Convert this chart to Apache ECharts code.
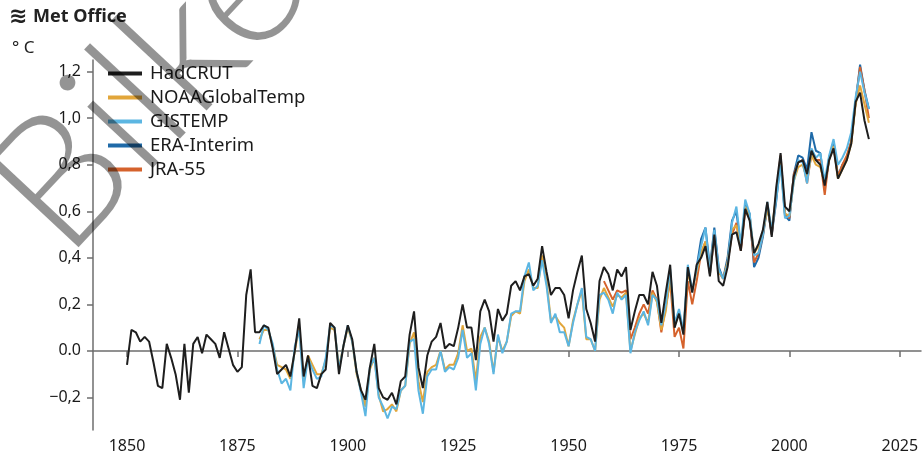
<!DOCTYPE html>
<html>
<head>
    <meta charset="UTF-8">
    <title>Global temperature</title>
    <style type="text/css">
        html, body { margin: 0; padding: 0; background: #fff; }
        #main { width: 922px; height: 457px; }
    </style>
</head>
<body>
    <div id="main"></div>
    <script src="https://cdn.jsdelivr.net/npm/echarts@6/dist/echarts.min.js"></script>
    <script type="text/javascript">

    // first year of each record
    var hadStart = 1850;
    var noaaStart = 1880;
    var gisStart = 1880;
    var eraStart = 1979;
    var jraStart = 1958;

    // anomalies in °C, one value per year
    var hadcrut = [
        -0.06, 0.09, 0.08, 0.04, 0.06, 0.04, -0.05, -0.15, -0.16, 0.03,
        -0.03, -0.10, -0.21, 0.03, -0.18, 0.03, 0.06, -0.01, 0.07, 0.05,
        0.03, -0.03, 0.08, 0.01, -0.06, -0.09, -0.07, 0.24, 0.35, 0.08,
        0.08, 0.11, 0.10, 0.01, -0.10, -0.08, -0.06, -0.11, 0.00, 0.14,
        -0.11, -0.02, -0.15, -0.16, -0.10, -0.08, 0.12, 0.10, -0.10, 0.02,
        0.11, 0.05, -0.09, -0.17, -0.21, -0.07, 0.03, -0.16, -0.20, -0.21,
        -0.18, -0.23, -0.13, -0.11, 0.07, 0.17, -0.07, -0.16, -0.02, 0.04,
        0.06, 0.12, 0.01, 0.03, 0.02, 0.10, 0.20, 0.10, 0.10, -0.04,
        0.17, 0.22, 0.17, 0.04, 0.18, 0.13, 0.16, 0.28, 0.30, 0.26,
        0.32, 0.33, 0.28, 0.31, 0.45, 0.34, 0.24, 0.27, 0.27, 0.24,
        0.14, 0.26, 0.34, 0.41, 0.18, 0.12, 0.04, 0.30, 0.36, 0.33,
        0.26, 0.35, 0.32, 0.36, 0.09, 0.17, 0.24, 0.24, 0.20, 0.34,
        0.28, 0.12, 0.25, 0.37, 0.10, 0.16, 0.07, 0.36, 0.25, 0.37,
        0.40, 0.45, 0.32, 0.50, 0.30, 0.28, 0.36, 0.50, 0.51, 0.43,
        0.61, 0.56, 0.42, 0.46, 0.52, 0.64, 0.49, 0.70, 0.85, 0.62,
        0.60, 0.75, 0.81, 0.82, 0.76, 0.86, 0.82, 0.80, 0.71, 0.82,
        0.87, 0.74, 0.78, 0.82, 0.89, 1.07, 1.11, 0.99, 0.91
    ];

    var noaa = [
        0.05, 0.09, 0.09, 0.02, -0.06, -0.07, -0.08, -0.12, 0.00, 0.10,
        -0.13, -0.02, -0.06, -0.10, -0.10, -0.04, 0.10, 0.09, -0.07, 0.02,
        0.10, 0.04, -0.10, -0.17, -0.24, -0.08, -0.03, -0.19, -0.26, -0.25,
        -0.23, -0.26, -0.17, -0.15, 0.03, 0.08, -0.13, -0.22, -0.09, -0.07,
        -0.06, 0.00, -0.08, -0.06, -0.06, -0.01, 0.11, 0.00, 0.01, -0.13,
        0.06, 0.10, 0.04, -0.09, 0.06, 0.00, 0.04, 0.15, 0.17, 0.16,
        0.30, 0.35, 0.27, 0.27, 0.41, 0.30, 0.13, 0.15, 0.12, 0.10,
        0.02, 0.13, 0.20, 0.26, 0.05, 0.05, 0.00, 0.22, 0.27, 0.23,
        0.19, 0.24, 0.23, 0.25, 0.00, 0.07, 0.14, 0.16, 0.12, 0.25,
        0.21, 0.09, 0.17, 0.32, 0.11, 0.16, 0.08, 0.34, 0.26, 0.34,
        0.42, 0.47, 0.35, 0.50, 0.34, 0.31, 0.38, 0.52, 0.54, 0.46,
        0.62, 0.58, 0.42, 0.45, 0.51, 0.61, 0.52, 0.67, 0.82, 0.59,
        0.58, 0.73, 0.79, 0.80, 0.74, 0.84, 0.80, 0.79, 0.72, 0.82,
        0.88, 0.74, 0.78, 0.82, 0.89, 1.06, 1.14, 1.06, 0.98
    ];

    var gistemp = [
        0.03, 0.11, 0.09, 0.03, -0.08, -0.14, -0.12, -0.17, 0.02, 0.09,
        -0.16, -0.03, -0.08, -0.12, -0.11, -0.03, 0.11, 0.10, -0.08, 0.02,
        0.11, 0.04, -0.09, -0.18, -0.28, -0.07, -0.03, -0.20, -0.24, -0.29,
        -0.24, -0.25, -0.17, -0.15, 0.04, 0.05, -0.17, -0.27, -0.11, -0.08,
        -0.08, 0.00, -0.09, -0.07, -0.08, -0.03, 0.09, -0.03, -0.01, -0.17,
        0.03, 0.10, 0.03, -0.10, 0.07, -0.01, 0.04, 0.16, 0.17, 0.17,
        0.32, 0.38, 0.26, 0.28, 0.39, 0.28, 0.12, 0.16, 0.08, 0.08,
        0.02, 0.12, 0.20, 0.27, 0.06, 0.05, 0.00, 0.24, 0.25, 0.22,
        0.16, 0.25, 0.22, 0.24, -0.01, 0.08, 0.13, 0.17, 0.11, 0.24,
        0.22, 0.11, 0.20, 0.35, 0.12, 0.18, 0.09, 0.37, 0.26, 0.35,
        0.45, 0.53, 0.33, 0.52, 0.35, 0.31, 0.37, 0.55, 0.62, 0.46,
        0.65, 0.59, 0.41, 0.42, 0.50, 0.64, 0.52, 0.65, 0.80, 0.57,
        0.58, 0.73, 0.82, 0.81, 0.72, 0.87, 0.83, 0.85, 0.73, 0.84,
        0.91, 0.80, 0.83, 0.87, 0.94, 1.09, 1.20, 1.11, 1.04
    ];

    var eraInterim = [
        0.36, 0.48, 0.53, 0.36, 0.53, 0.36, 0.31, 0.40, 0.56, 0.60,
        0.44, 0.63, 0.59, 0.36, 0.40, 0.49, 0.62, 0.50, 0.64, 0.82,
        0.58, 0.56, 0.76, 0.84, 0.83, 0.78, 0.94, 0.86, 0.85, 0.70,
        0.83, 0.90, 0.75, 0.80, 0.83, 0.90, 1.07, 1.23, 1.12, 1.04
    ];

    var jra55 = [
        0.30, 0.26, 0.22, 0.26, 0.25, 0.26, 0.05, 0.10, 0.16, 0.20,
        0.16, 0.26, 0.22, 0.08, 0.19, 0.30, 0.06, 0.10, 0.01, 0.30,
        0.20, 0.30, 0.42, 0.47, 0.33, 0.49, 0.34, 0.31, 0.38, 0.50,
        0.55, 0.43, 0.60, 0.57, 0.38, 0.42, 0.50, 0.63, 0.50, 0.67,
        0.84, 0.59, 0.57, 0.76, 0.81, 0.82, 0.72, 0.85, 0.82, 0.82,
        0.67, 0.83, 0.88, 0.75, 0.80, 0.84, 0.90, 1.07, 1.22, 1.12,
        1.00
    ];

    var xTicks = [1850, 1875, 1900, 1925, 1950, 1975, 2000, 2025];
    var yTicks = [-0.2, 0, 0.2, 0.4, 0.6, 0.8, 1.0, 1.2];

    function pairs(start, vals) {
        return vals.map(function (v, i) { return [start + i, v]; });
    }

    function yLabel(v) {
        if (Math.abs(v) < 1e-9) return '0.0';
        var s = Math.abs(v).toFixed(1).replace('.', ',');
        return v < 0 ? '\u2212' + s : s;
    }

    function line(name, color, start, vals, z) {
        return {
            name: name,
            type: 'line',
            data: pairs(start, vals),
            showSymbol: false,
            symbol: 'none',
            z: z,
            lineStyle: { color: color, width: 2 },
            itemStyle: { color: color }
        };
    }

    var axisGrey = '#6e6e6e';
    var font = 'Noto Sans';

    var option = {
        animation: false,
        backgroundColor: '#fff',
        grid: { left: 93, right: 1, top: 60, bottom: 27 },
        legend: {
            orient: 'vertical',
            left: 103,
            top: 59,
            icon: 'rect',
            itemWidth: 34,
            itemHeight: 4,
            itemGap: 5,
            data: ['HadCRUT', 'NOAAGlobalTemp', 'GISTEMP', 'ERA-Interim', 'JRA-55'],
            textStyle: { fontFamily: font, fontSize: 18.5, color: '#1a1a1a', lineHeight: 18, padding: [0, 0, 0, 3] }
        },
        xAxis: {
            type: 'value',
            min: 1842.3,
            max: 2029.8,
            splitLine: { show: false },
            axisLine: { lineStyle: { color: axisGrey, width: 1.5 } },
            axisTick: { customValues: xTicks, length: 6, lineStyle: { color: axisGrey, width: 1.5 } },
            axisLabel: {
                customValues: xTicks, margin: 8, fontFamily: font, fontSize: 16, color: '#1a1a1a',
                formatter: function (v) { return String(v); }
            }
        },
        yAxis: {
            type: 'value',
            min: -0.34,
            max: 1.25,
            splitLine: { show: false },
            axisLine: { show: true, lineStyle: { color: axisGrey, width: 1.5 } },
            axisTick: { show: true, customValues: yTicks, length: 6, lineStyle: { color: axisGrey, width: 1.5 } },
            axisLabel: { customValues: yTicks, margin: 12, fontFamily: font, fontSize: 16, color: '#1a1a1a', formatter: yLabel }
        },
        graphic: [
            {
                type: 'text', left: 9, top: 6,
                style: { text: '\u224B', font: 'bold 22px "DejaVu Sans"', fill: '#222' }
            },
            {
                type: 'text', left: 33, top: 8,
                style: { text: 'Met Office', font: 'bold 18px "Noto Sans"', fill: '#222' }
            },
            {
                type: 'text', left: 12, top: 40,
                style: { text: '\u00B0 C', font: '17px "Noto Sans"', fill: '#222' }
            },
            {
                // watermark across the top left corner
                type: 'text', x: 148, y: 88, rotation: 0.82, z: 100,
                style: {
                    text: 'Bilke', font: '300 180px Lato',
                    fill: 'rgba(0,0,0,0.42)', align: 'center', verticalAlign: 'middle'
                }
            }
        ],
        series: [
            line('ERA-Interim', '#1f6aa8', eraStart, eraInterim, 2),
            line('JRA-55', '#d5622c', jraStart, jra55, 3),
            line('NOAAGlobalTemp', '#e2a63a', noaaStart, noaa, 4),
            line('GISTEMP', '#5cb6e2', gisStart, gistemp, 5),
            line('HadCRUT', '#1e1e1e', hadStart, hadcrut, 6)
        ]
    };

    var myChart = echarts.init(document.getElementById('main'));
    myChart.setOption(option);
    </script>
</body>
</html>
